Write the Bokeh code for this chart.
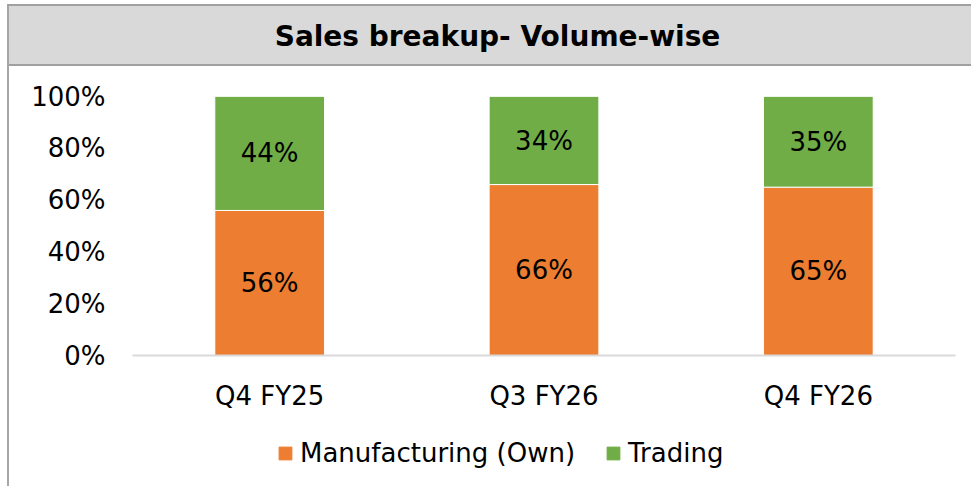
from bokeh.plotting import figure
from bokeh.models import (ColumnDataSource, FactorRange, Range1d, FixedTicker,
                          NumeralTickFormatter, Legend, LegendItem, Spacer)
from bokeh.layouts import column, row
from bokeh.core.properties import value
from bokeh.embed import file_html
from bokeh.resources import INLINE

# ---- data ----
categories = ["Q4 FY25", "Q3 FY26", "Q4 FY26"]
manufacturing = [0.56, 0.66, 0.65]
trading = [0.44, 0.34, 0.35]
series_names = ["Manufacturing (Own)", "Trading"]
colors = ["#ED7D31", "#70AD47"]
title_text = "Sales breakup- Volume-wise"
y_ticks = [0, 0.2, 0.4, 0.6, 0.8, 1.0]

FONT = "DejaVu Sans"
W = 962
GREY = "#D9D9D9"

# ---- title band ----
tp = figure(width=W, height=60, x_range=Range1d(0, 1), y_range=Range1d(0, 1),
            output_backend="svg", toolbar_location=None,
            min_border_left=123, min_border_right=16, min_border_top=0,
            min_border_bottom=0, x_axis_location=None, y_axis_location=None,
            styles={"border-bottom": "2px solid #A0A0A0",
                    "background-color": GREY})
tp.grid.visible = False
tp.background_fill_color = GREY
tp.border_fill_color = GREY
tp.outline_line_color = None
tp.text(x=[0.4435], y=[0.5], text=[title_text], text_align="center",
        text_baseline="middle", text_font=value(FONT), text_font_style="bold",
        text_font_size="28px", text_color="#000000")

# ---- main chart ----
src = ColumnDataSource(dict(
    cat=categories,
    m=manufacturing,
    t=trading,
    m_mid=[v / 2 for v in manufacturing],
    t_mid=[m + t / 2 for m, t in zip(manufacturing, trading)],
    m_lbl=[f"{round(v * 100)}%" for v in manufacturing],
    t_lbl=[f"{round(v * 100)}%" for v in trading],
))

p = figure(x_range=FactorRange(*categories), y_range=Range1d(0, 1),
           width=W, height=352, output_backend="svg", toolbar_location=None,
           min_border_left=123, min_border_right=16, min_border_top=30,
           min_border_bottom=63)
p.grid.visible = False
p.outline_line_color = None
p.background_fill_color = "white"
p.border_fill_color = "white"

rs = p.vbar_stack(["m", "t"], x="cat", width=0.4, color=colors, source=src,
                  line_color="white", line_width=1)

for ycol, lcol in (("m_mid", "m_lbl"), ("t_mid", "t_lbl")):
    p.text(x="cat", y=ycol, text=lcol, source=src, text_align="center",
           text_baseline="middle", text_font=value(FONT),
           text_font_size="26px", text_color="#000000")

p.xaxis.major_label_text_font = FONT
p.xaxis.major_label_text_font_size = "26px"
p.xaxis.major_label_text_color = "#000000"
p.xaxis.axis_line_color = GREY
p.xaxis.axis_line_width = 2
p.xaxis.major_tick_line_color = None
p.xaxis.minor_tick_line_color = None
p.xaxis.major_label_standoff = 19

p.yaxis.ticker = FixedTicker(ticks=y_ticks)
p.yaxis.formatter = NumeralTickFormatter(format="0%")
p.yaxis.major_label_text_font = FONT
p.yaxis.major_label_text_font_size = "26px"
p.yaxis.major_label_text_color = "#000000"
p.yaxis.axis_line_color = None
p.yaxis.major_tick_line_color = None
p.yaxis.minor_tick_line_color = None
p.yaxis.major_label_standoff = 21

# ---- legend strip (same series, view window lies above the bars) ----
lg = figure(width=W, height=68, x_range=FactorRange(*categories),
            y_range=Range1d(2, 3),
            output_backend="svg", toolbar_location=None,
            min_border_left=123, min_border_right=16, min_border_top=0,
            min_border_bottom=0, x_axis_location=None, y_axis_location=None)
lg.grid.visible = False
lg.outline_line_color = None
lg.background_fill_color = "white"
lg.border_fill_color = "white"
swatches = lg.vbar_stack(["m", "t"], x="cat", width=0.4, color=colors, source=src)

legend = Legend(items=[LegendItem(label=n, renderers=[r]) for n, r in zip(series_names, swatches)],
                orientation="horizontal", location=(145, 18),
                border_line_color=None, background_fill_alpha=0,
                label_text_font=FONT, label_text_font_size="26px",
                label_text_color="#000000", glyph_width=16, glyph_height=16,
                spacing=30, label_standoff=7, padding=0, margin=0)
lg.add_layout(legend, "center")

inner = column(tp, p, lg, spacing=0,
               styles={"border-left": "2px solid #A6A6A6",
                       "border-top": "2px solid #A0A0A0"})
layout = column(Spacer(height=4), row(Spacer(width=7), inner, spacing=0), spacing=0)

open("out.html", "w").write(file_html(layout, INLINE))
